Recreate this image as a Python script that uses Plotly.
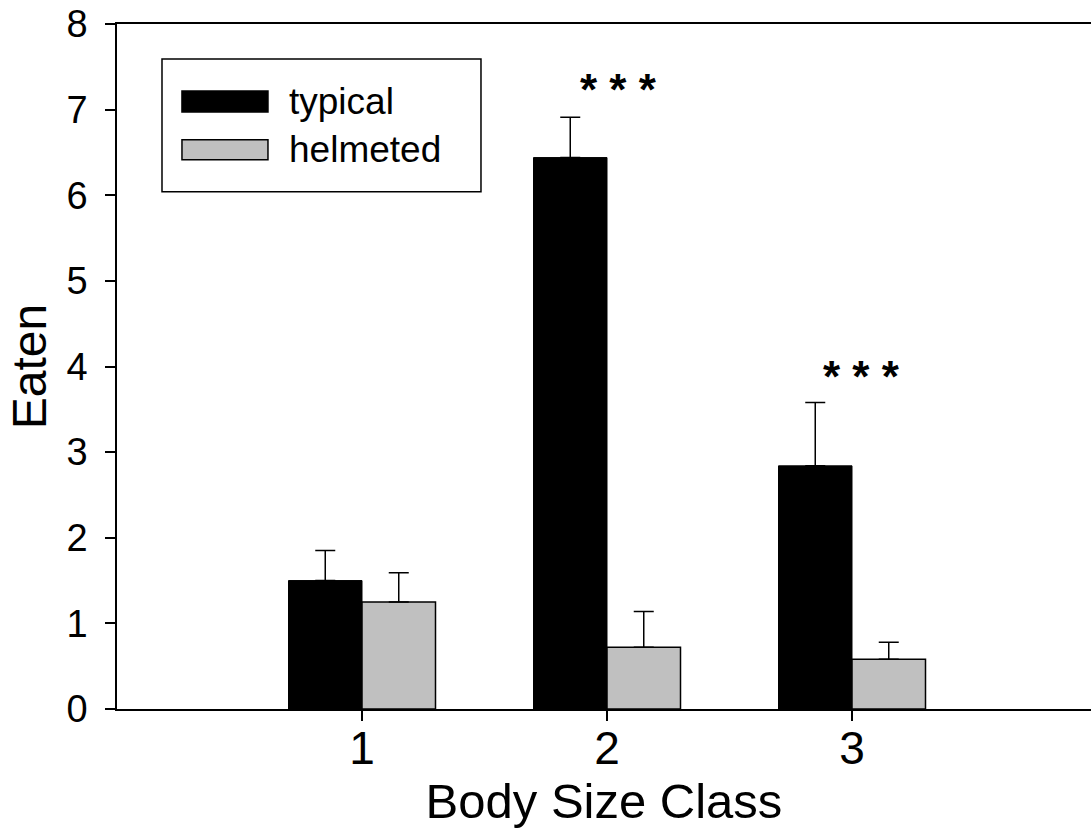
import plotly.graph_objects as go

# Body size classes on the x axis
size_class = [1, 2, 3]
class_labels = ["1", "2", "3"]

# Mean number eaten with standard errors
typical_mean = [1.50, 6.44, 2.84]
typical_se = [0.35, 0.47, 0.74]
helmeted_mean = [1.25, 0.72, 0.58]
helmeted_se = [0.34, 0.42, 0.20]

# Significance marks above classes 2 and 3
sig_x = [2.045, 3.04]
sig_y = [7.24, 3.88]
sig_text = ["* * *", "* * *"]

FONT = "Liberation Sans, Arial, sans-serif"
BAR_W = 0.3

fig = go.Figure()

fig.add_trace(go.Bar(
    x=size_class, y=typical_mean, name="typical",
    width=BAR_W, offset=-BAR_W,
    marker=dict(color="black", line=dict(color="black", width=1)),
    error_y=dict(type="data", array=typical_se, arrayminus=[0] * len(typical_se),
                 symmetric=False, color="black", thickness=1.5, width=10),
    showlegend=False,
))
fig.add_trace(go.Bar(
    x=size_class, y=helmeted_mean, name="helmeted",
    width=BAR_W, offset=0,
    marker=dict(color="#c0c0c0", line=dict(color="black", width=1.5)),
    error_y=dict(type="data", array=helmeted_se, arrayminus=[0] * len(helmeted_se),
                 symmetric=False, color="black", thickness=1.5, width=10),
    showlegend=False,
))

for sx, sy, st in zip(sig_x, sig_y, sig_text):
    fig.add_annotation(x=sx, y=sy, xref="x", yref="y", text=f"<b>{st}</b>",
                       showarrow=False, font=dict(family=FONT, size=44, color="black"),
                       xanchor="center", yanchor="middle")

# Legend box drawn with wide swatches
legend_items = [("typical", "black"), ("helmeted", "#c0c0c0")]
fig.add_shape(type="rect", xref="paper", yref="paper",
              x0=0.0462, x1=0.3737, y0=0.7551, y1=0.949,
              line=dict(color="black", width=1.5), fillcolor="white", layer="above")
sw_y = [(0.8717, 0.9023), (0.8017, 0.8309)]
for (label, color), (y0, y1) in zip(legend_items, sw_y):
    fig.add_shape(type="rect", xref="paper", yref="paper",
                  x0=0.0667, x1=0.155, y0=y0, y1=y1,
                  line=dict(color="black", width=1.5), fillcolor=color, layer="above")
    fig.add_annotation(x=0.1745, y=(y0 + y1) / 2, xref="paper", yref="paper",
                       text=label, showarrow=False, xanchor="left", yanchor="middle",
                       font=dict(family=FONT, size=37, color="black"))

fig.update_layout(
    width=1091, height=835,
    margin=dict(l=117, r=0, t=24, b=126),
    paper_bgcolor="white", plot_bgcolor="white",
    barmode="overlay",
    font=dict(family=FONT, color="black"),
    showlegend=False,
)
fig.update_xaxes(
    range=[0, 3.9755], tickvals=size_class, ticktext=class_labels,
    ticks="outside", ticklen=10, tickwidth=1.5, tickcolor="black",
    showline=True, linecolor="black", linewidth=1.5, mirror=True,
    showgrid=False, zeroline=False, ticklabelstandoff=-12,
    tickfont=dict(family=FONT, size=46, color="black"),
    title=dict(text="Body Size Class", font=dict(family=FONT, size=49, color="black"), standoff=8),
)
fig.update_yaxes(
    range=[0, 8], dtick=1, tick0=0,
    ticks="outside", ticklen=10, tickwidth=1.5, tickcolor="black",
    showline=True, linecolor="black", linewidth=1.5,
    showgrid=False, zeroline=False, ticklabelstandoff=10,
    tickfont=dict(family=FONT, size=38, color="black"),
    title=dict(text="Eaten", font=dict(family=FONT, size=48, color="black"), standoff=5),
)

fig.write_html("out.html")
